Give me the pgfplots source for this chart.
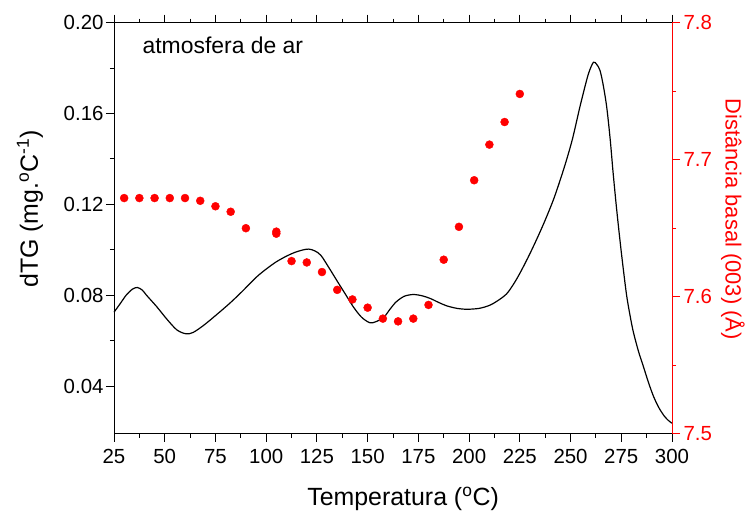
\documentclass[border=0pt]{standalone}
\usepackage{fontspec}
\setmainfont{Liberation Sans}
\usepackage{pgfplots}
\pgfplotsset{compat=1.18}
\begin{document}
\begin{tikzpicture}
\begin{axis}[
  name=main,
  scale only axis,
  width=558bp, height=411bp,
  xmin=25, xmax=300,
  ymin=0.019, ymax=0.20,
  xtick={25,50,...,300},
  ytick={0.04,0.08,0.12,0.16,0.20},
  minor x tick num=1,
  minor y tick num=1,
  xtick pos=both,
  ytick pos=left,
  tick align=outside,
  major tick length=8bp,
  minor tick length=4bp,
  every tick/.style={black, line width=0.9pt},
  axis line style={black, line width=1pt},
  scaled y ticks=false,
  /pgf/number format/assume math mode=true,
  yticklabel style={/pgf/number format/fixed, /pgf/number format/fixed zerofill, /pgf/number format/precision=2, xshift=1bp},
  xticklabel style={yshift=-4bp},
  tick label style={font=\fontsize{20.5}{24}\selectfont},
  label style={font=\fontsize{25}{30}\selectfont},
  xlabel={Temperatura (\textsuperscript{o}C)},
  ylabel={dTG (mg.\textsuperscript{o}C\textsuperscript{-1})},
  xlabel style={at={(axis description cs:0.518,-0.158)}, anchor=center},
  ylabel style={at={(axis description cs:-0.1505,0.547)}, anchor=center},
  clip=false,
]
\addplot[black, line width=1.2pt, smooth, tension=0.5] coordinates {
(25,0.0725) (28,0.0762) (31,0.0800) (34,0.0826) (36.5,0.0834) (39,0.0822) (41,0.0800)
(46,0.0750) (51,0.0695) (56,0.0647) (60.5,0.0630) (64,0.0636) (69,0.0666)
(75,0.0710) (82,0.0764) (88,0.0815) (95,0.0878) (100,0.0915) (105,0.0947)
(110,0.0972) (114,0.0988) (118,0.0999) (121,0.1003) (124,0.0995) (127,0.0975)
(131,0.0920) (135,0.0862) (139,0.0805) (143,0.0748) (147,0.0703) (151,0.0679)
(154,0.0683) (158,0.0703) (161,0.0738) (164,0.0770) (168,0.0795) (172.5,0.0803)
(177,0.0797) (181,0.0785) (185,0.0768) (189,0.0753) (194,0.0742) (199,0.0738)
(205,0.0742) (210,0.0755) (214,0.0775) (218.5,0.0806) (222,0.0850) (225,0.0896)
(229,0.0965) (233,0.1040) (237,0.1120) (241.5,0.1219) (245,0.1310) (248,0.1395)
(251,0.1490) (254.5,0.1625) (257,0.1715) (259,0.1780) (261.3,0.1826) (263,0.1815)
(264.5,0.1790) (266,0.1730) (267.8,0.1630) (269.5,0.1490) (271,0.1337) (272.7,0.1180)
(274.5,0.1030) (276,0.0915) (277.7,0.0795) (279.5,0.0702) (281,0.0636) (283.5,0.0552)
(286,0.0483) (288.5,0.0413) (291,0.0352) (293.5,0.0305) (296,0.0270) (298,0.0250)
(300,0.0236)
};
\coordinate (bl) at (rel axis cs:0,0);
\coordinate (tr) at (rel axis cs:1,1);
\node[anchor=west, font=\fontsize{23}{27}\selectfont] at (axis description cs:0.045,0.944) {atmosfera de ar};
\end{axis}
\begin{axis}[
  scale only axis,
  width=558bp, height=411bp,
  xmin=25, xmax=300,
  ymin=7.5, ymax=7.8,
  axis x line=none,
  axis y line*=right,
  ytick={7.5,7.6,7.7,7.8},
  minor y tick num=1,
  tick align=outside,
  major tick length=8bp,
  minor tick length=4bp,
  every tick/.style={red, line width=0.9pt},
  axis line style={red, line width=1pt},
  /pgf/number format/assume math mode=true,
  yticklabel style={red, /pgf/number format/fixed, /pgf/number format/fixed zerofill, /pgf/number format/precision=1},
  tick label style={font=\fontsize{20.5}{24}\selectfont},
  ylabel style={red, font=\fontsize{22}{26}\selectfont, rotate=180, at={(axis description cs:1.109,0.522)}, anchor=center},
  ylabel={Distância basal (003) (Å)},
]
\addplot[only marks, mark=*, mark size=4bp, red, mark options={fill=red, draw=red}] coordinates {
(30,7.672) (37.5,7.672) (45,7.672) (52.5,7.672) (60,7.672) (67.5,7.670) (75,7.666)
(82.5,7.662) (90,7.650) (105,7.6475) (105,7.646) (112.5,7.626) (120,7.625)
(127.5,7.618) (135,7.605) (142.5,7.598) (150,7.592) (157.5,7.584) (165,7.582)
(172.5,7.584) (180,7.594) (187.5,7.627) (195,7.651) (202.5,7.685) (210,7.711)
(217.5,7.7275) (225,7.748)
};
\end{axis}
\pgfresetboundingbox
\path ([shift={(-114bp,-77.3bp)}]bl) rectangle ([shift={(74bp,22.7bp)}]tr);
\end{tikzpicture}
\end{document}
